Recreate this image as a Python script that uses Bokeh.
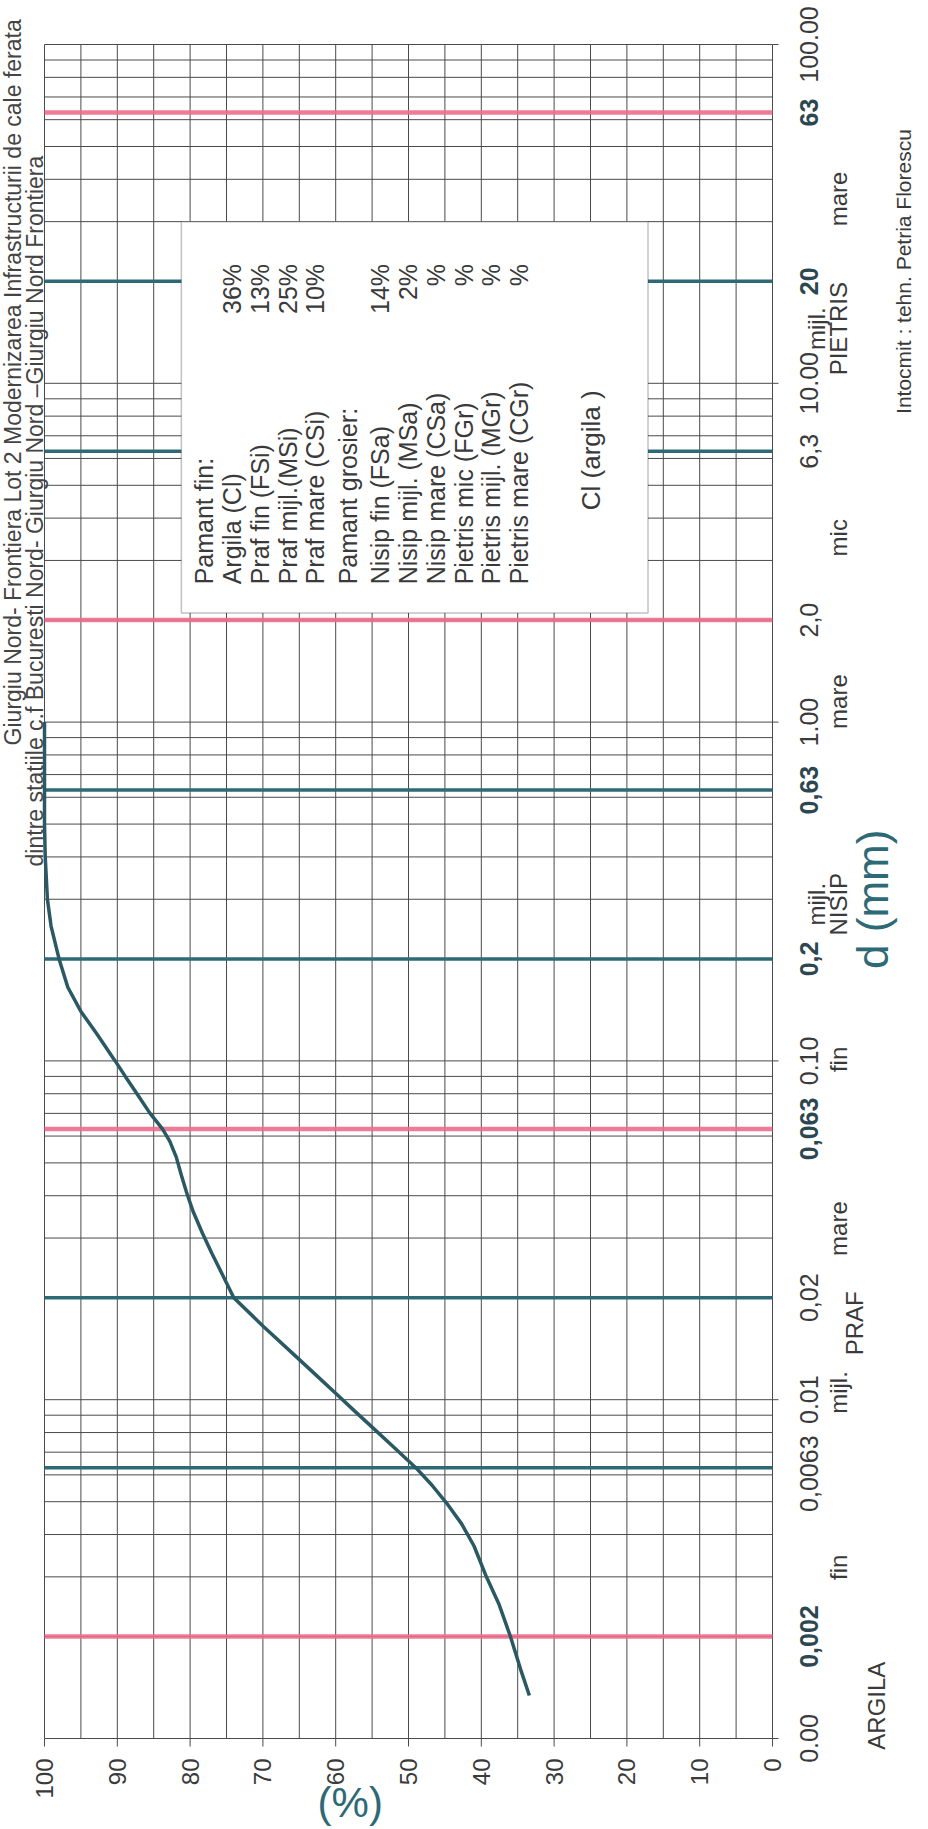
import math
from bokeh.plotting import figure
from bokeh.models import Range1d, Label, BoxAnnotation
from bokeh.embed import file_html
from bokeh.resources import INLINE

# ---------------- data ----------------
diam_mm = [0.00134, 0.0016, 0.002, 0.0025, 0.003, 0.0037, 0.0043, 0.0049, 0.0056,
           0.0063, 0.0072, 0.0083, 0.0093, 0.0104, 0.0115, 0.0132, 0.0165, 0.02,
           0.0235, 0.027, 0.031, 0.036, 0.041, 0.046, 0.052, 0.058, 0.063, 0.07,
           0.08, 0.09, 0.1, 0.12, 0.14, 0.165, 0.2, 0.25, 0.3, 0.4, 0.5, 0.63, 1.0]
passing_pct = [33.4, 34.6, 36.0, 37.6, 39.3, 41.0, 42.7, 44.6, 46.8,
               49.0, 51.9, 55.0, 57.5, 59.9, 62.1, 65.1, 70.0, 74.0,
               75.6, 77.0, 78.3, 79.6, 80.5, 81.2, 81.9, 82.8, 83.8, 85.5,
               87.3, 88.9, 90.3, 92.8, 95.0, 96.8, 98.0, 99.1, 99.6, 99.9, 100.0, 100.0, 100.0]

pct_ticks = [0, 10, 20, 30, 40, 50, 60, 70, 80, 90, 100]
pct_grid = [0, 5, 10, 15, 20, 25, 30, 35, 40, 45, 50, 55, 60, 65, 70, 75, 80, 85, 90, 95, 100]
d_grid = [k * 10.0 ** e for e in range(-3, 2) for k in range(1, 10)] + [100.0]
d_decades = [0.001, 0.01, 0.1, 1.0, 10.0, 100.0]

limits_pink = [0.002, 0.063, 2.0, 63.0]
limits_teal = [0.0063, 0.02, 0.2, 0.63, 6.3, 20.0]

d_tick_values = [0.001, 0.002, 0.0063, 0.01, 0.02, 0.063, 0.1, 0.2, 0.63, 1.0,
                 2.0, 6.3, 10.0, 20.0, 63.0, 100.0]
d_tick_labels = ["0.00", "0,002", "0,0063", "0.01", "0,02", "0,063", "0.10", "0,2",
                 "0,63", "1.00", "2,0", "6,3", "10.00", "20", "63", "100.00"]
d_tick_bold = [False, True, False, False, False, True, False, True,
               True, False, False, False, False, True, True, False]

band_names = ["fin", "mijl.", "mare", "fin", "mijl.", "mare", "mic", "mijl.", "mare"]
band_at = [0.0032, 0.0105, 0.032, 0.101, 0.29, 1.15, 3.5, 14.5, 35.0]
group_names = ["ARGILA", "PRAF", "NISIP", "PIETRIS"]
group_at = [0.00125, 0.0168, 0.29, 14.5]

legend_names = ["Pamant fin:", "Argila (Cl)", "Praf fin (FSi)", "Praf mijl.(MSi)",
                "Praf mare (CSi)", "Pamant grosier:", "Nisip fin (FSa)",
                "Nisip mijl. (MSa)", "Nisip mare (CSa)", "Pietris mic (FGr)",
                "Pietris mijl. (MGr)", "Pietris mare (CGr)"]
legend_values = ["", "36%", "13%", "25%", "10%", "", "14%", "2%", "%", "%", "%", "%"]
classification = "Cl  (argila )"

title_1 = "Giurgiu Nord- Frontiera  Lot 2 Modernizarea  Infrastructurii de cale ferata"
title_2 = "dintre statiile c.f Bucuresti Nord- Giurgiu Nord \u2013Giurgiu Nord Frontiera"
author = "Intocmit : tehn. Petria  Florescu"

# ---------------- layout ----------------
W, H = 920, 1829
PX_L, PX_R, PX_T, PX_B = 44, 772, 44, 1738          # plot area inside the canvas
ppp = (PX_R - PX_L) / 100.0                          # pixels per percent
ppd = (PX_B - PX_T) / 5.0                            # pixels per decade
x_start = 100 + PX_L / ppp
x_end = -(W - PX_R) / ppp
y_top = 100 * 10 ** (PX_T / ppd)
y_bot = 0.001 * 10 ** (-(H - PX_B) / ppd)

# horizontal pixel offsets of the right-hand texts from the plot's right edge
band_dx = [66, 66, 66, 66, 44, 66, 66, 44, 66]
group_dx = [104, 82, 66, 66]
tick_dy = [0, 0, -6, 0, 0, 0, 0, 0, 0, 0, 0, 0, 0, 0, 0, 0]

FONT = "Liberation Sans"
TXT = "#3a3a3a"
TEAL = "#2e6a76"
PINK = "#ee6d8b"
CURVE = "#2a5963"
GRID = "#4a4a4a"

p = figure(width=W, height=H, x_range=Range1d(x_start, x_end), y_range=Range1d(y_bot, y_top),
           y_axis_type="log", x_axis_location=None, y_axis_location=None,
           min_border=0, output_backend="svg", toolbar_location=None)
p.background_fill_color = "white"
p.border_fill_color = "white"
p.outline_line_color = None
for g in p.grid:
    g.visible = False

# grid of the plot area
p.segment(x0=pct_grid, x1=pct_grid, y0=0.001, y1=100.0, line_color=GRID, line_width=1)
p.segment(x0=100.0, x1=0.0, y0=d_grid, y1=d_grid, line_color=GRID, line_width=1)

# axis tick marks
p.ray(x=pct_ticks, y=0.001, length=8, length_units="screen", angle=-math.pi / 2,
      line_color=GRID, line_width=1)
p.ray(x=0.0, y=d_decades, length=6, length_units="screen", angle=0.0,
      line_color=GRID, line_width=1)

# limit lines between fractions
p.segment(x0=100.0, x1=0.0, y0=limits_pink, y1=limits_pink, line_color=PINK,
          line_width=4.5, line_alpha=0.9)
p.segment(x0=100.0, x1=0.0, y0=limits_teal, y1=limits_teal, line_color=TEAL,
          line_width=3.5)

# grading curve
p.line(x=passing_pct, y=diam_mm, line_color=CURVE, line_width=3.5)

# legend box
p.add_layout(BoxAnnotation(left=81.2, right=17.1, bottom=2.1, top=30.0,
                           fill_color="white", fill_alpha=1.0,
                           line_color="#333333", line_width=1.5))


def lab(text, x, y, xo=0, yo=0, size=24, color=TXT, bold=False, align="center",
        baseline="middle", angle=math.pi / 2):
    p.add_layout(Label(x=x, y=y, x_offset=xo, y_offset=yo, text=text, angle=angle,
                       text_align=align, text_baseline=baseline, text_font=FONT,
                       text_font_size=f"{size}px", text_color=color,
                       text_font_style="bold" if bold else "normal"))


# legend texts
leg_x0 = 78.1
leg_step = 3.83
for i, (name, val) in enumerate(zip(legend_names, legend_values)):
    xx = leg_x0 - i * leg_step - (0.6 if i >= 5 else 0.0) - (0.6 if i >= 6 else 0.0)
    lab(name, xx, 2.55, align="left", size=25)
    if val:
        lab(val, xx, 22.5, align="right", size=25)
lab(classification, 24.9, 6.5, size=26)

# percent labels along the bottom
for t in pct_ticks:
    lab(str(t), t, 0.001, yo=-20, size=24, align="right")
lab("(%)", 58.0, 0.001, yo=-64, size=42, color=TEAL, angle=0)

# d labels at the right
for v, t, b, dy in zip(d_tick_values, d_tick_labels, d_tick_bold, tick_dy):
    lab(t, 0.0, v, xo=36, yo=dy, size=25, bold=b, color="#2c4750" if b else TXT)
for t, v, dx in zip(band_names, band_at, band_dx):
    lab(t, 0.0, v, xo=dx)
for t, v, dx in zip(group_names, group_at, group_dx):
    lab(t, 0.0, v, xo=dx)
lab("d (mm)", 0.0, 0.3, xo=100, size=44, color=TEAL)
lab(author, 0.0, 21.8, xo=131, size=21)

# title (rotated, at the left edge)
lab(title_2, 100.0, 0.375, xo=34 - PX_L, size=23, align="left", color="#444444")
lab(title_1, 100.0, 100.0, xo=12 - PX_L, yo=PX_T - 6, size=23, align="right", color="#444444")

open("out.html", "w").write(file_html(p, INLINE))
